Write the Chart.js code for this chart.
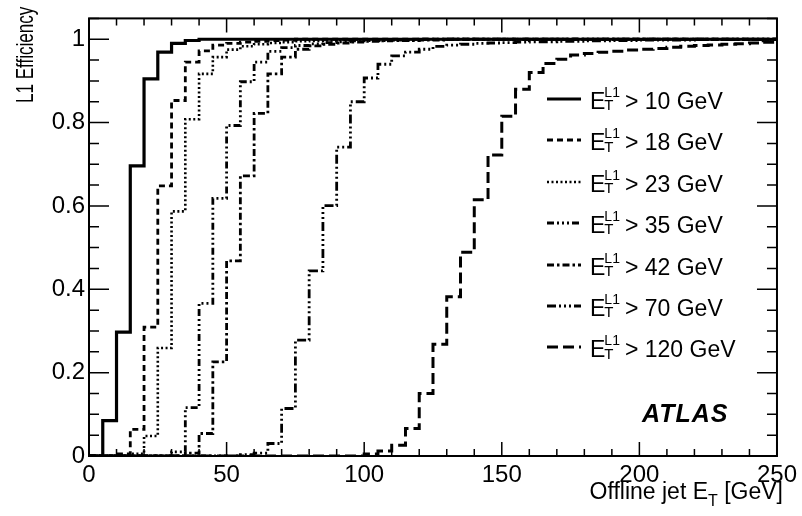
<!DOCTYPE html>
<html>
<head>
<meta charset="utf-8">
<script src="https://cdn.jsdelivr.net/npm/chart.js@4/dist/chart.umd.min.js"></script>
<style>
body { margin: 0; background: #fff; }
#wrap { position: relative; width: 802px; height: 516px; font-family: "Liberation Sans", Arial, sans-serif; color: #000; }
canvas { position: absolute; left: 0; top: 0; }
.ov { position: absolute; white-space: nowrap; line-height: 1; }
.row { font-size: 23px; display: flex; align-items: flex-start; }
.row svg { margin-top: 5px; margin-right: 9px; }
.ss { display: inline-flex; flex-direction: column; font-size: 14px; line-height: 0.95; vertical-align: top; margin-top: -4px; margin-right: 5px; margin-left: -1px; }
.sub { font-size: 15px; margin-top: -1px; }
#xtitle { font-size: 23px; right: 19px; top: 480px; }
#xtitle sub { font-size: 16px; vertical-align: -7px; }
#atlas { font-size: 25px; font-weight: bold; font-style: italic; letter-spacing: 1px; left: 642px; top: 401px; }
</style>
</head>
<body>
<div id="wrap">
  <canvas id="eff" width="802" height="516"></canvas>
  <div class="ov" id="xtitle">Offline jet E<sub>T</sub> [GeV]</div>
  <div class="ov" id="atlas">ATLAS</div>
</div>
<script>
// bin edges in GeV (5 GeV bins)
const binEdges = [0,5,10,15,20,25,30,35,40,45,50,55,60,65,70,75,80,85,90,95,
  100,105,110,115,120,125,130,135,140,145,150,155,160,165,170,175,180,185,190,195,
  200,205,210,215,220,225,230,235,240,245,250]

// efficiency per bin, one array per L1 threshold
const eff10 = [0,0.085,0.297,0.696,0.905,0.969,0.99,0.997,1,1,
  1,1,1,1,1,1,1,1,1,1, 1,1,1,1,1,1,1,1,1,1, 1,1,1,1,1,1,1,1,1,1, 1,1,1,1,1,1,1,1,1,1]
const eff18 = [0,0,0.005,0.064,0.309,0.648,0.853,0.945,0.972,0.986,
  0.99,0.993,0.995,0.997,0.998,1,1,1,1,1, 1,1,1,1,1,1,1,1,1,1, 1,1,1,1,1,1,1,1,1,1, 1,1,1,1,1,1,1,1,1,1]
const eff23 = [0,0,0,0.005,0.048,0.259,0.587,0.808,0.917,0.957,
  0.975,0.983,0.988,0.991,0.993,0.995,0.996,0.997,0.998,1, 1,1,1,1,1,1,1,1,1,1, 1,1,1,1,1,1,1,1,1,1, 1,1,1,1,1,1,1,1,1,1]
const eff35 = [0,0,0,0,0,0,0.01,0.116,0.366,0.618,
  0.793,0.898,0.945,0.971,0.98,0.985,0.989,0.992,0.994,0.996, 0.997,0.997,0.998,0.998,1,1,1,1,1,1, 1,1,1,1,1,1,1,1,1,1, 1,1,1,1,1,1,1,1,1,1]
const eff42 = [0,0,0,0,0,0,0,0.007,0.054,0.226,
  0.468,0.672,0.822,0.917,0.957,0.976,0.984,0.988,0.991,0.993, 0.995,0.996,0.997,0.997,0.998,0.998,1,1,1,1, 1,1,1,1,1,1,1,1,1,1, 1,1,1,1,1,1,1,1,1,1]
const eff70 = [0,0,0,0,0,0,0,0,0,0,
  0,0.003,0.007,0.03,0.114,0.278,0.444,0.601,0.741,0.85, 0.907,0.94,0.96,0.969,0.976,0.983,0.986,0.988,0.99,0.991,
  0.992,0.993,0.994,0.994,0.995,0.995,0.996,0.996,0.997,0.997, 0.998,0.998,0.998,0.998,0.999,0.999,0.999,0.999,0.999,0.999]
const eff120 = [0,0,0,0,0,0,0,0,0,0, 0,0,0,0,0,0,0,0,0,0,
  0.005,0.012,0.026,0.066,0.15,0.268,0.382,0.489,0.615,0.722, 0.815,0.88,0.92,0.942,0.952,0.962,0.966,0.969,0.971,0.974,
  0.976,0.978,0.981,0.983,0.985,0.986,0.988,0.989,0.991,0.993]

const thresholds = ['10', '18', '23', '35', '42', '70', '120']
const allEff = [eff10, eff18, eff23, eff35, eff42, eff70, eff120]
const dashes = [[], [6,4], [2,2.5], [7,3,2,3,2,3,2,3], [7,3,2.5,3], [9,3,2,3,2,3,2,3], [11,5]]
const widths = [3.2, 2.8, 2.6, 2.8, 2.8, 2.8, 3]

const xTicks = [0, 50, 100, 150, 200, 250]
const yTicks = [0, 0.2, 0.4, 0.6, 0.8, 1]
const yTickLabels = ['0', '0.2', '0.4', '0.6', '0.8', '1']
const yTitle = 'L1 Efficiency'

function toSteps(vals) {
    let pts = vals.map((v, i) => ({ x: binEdges[i], y: v }))
    pts.push({ x: binEdges[vals.length], y: vals[vals.length - 1] })
    return pts
}

// ROOT style frame with inward ticks on all four sides, plus the narrow y title
const frame = {
    id: 'frame',
    afterDatasetsDraw(chart) {
        const { ctx, chartArea: a } = chart
        const x = chart.scales.x, y = chart.scales.y
        ctx.save()
        ctx.strokeStyle = '#000'
        ctx.lineWidth = 2
        ctx.strokeRect(a.left, a.top, a.right - a.left, a.bottom - a.top)
        ctx.lineWidth = 1.5
        ctx.beginPath()
        for (let v = 0; v <= 250; v += 10) {
            const px = x.getPixelForValue(v)
            const len = v % 50 === 0 ? 14 : 7
            ctx.moveTo(px, a.bottom); ctx.lineTo(px, a.bottom - len)
            ctx.moveTo(px, a.top); ctx.lineTo(px, a.top + len)
        }
        for (let k = 0; k <= 21; k++) {
            const py = y.getPixelForValue(k * 0.05)
            const len = k % 4 === 0 ? 20 : 10
            ctx.moveTo(a.left, py); ctx.lineTo(a.left + len, py)
            ctx.moveTo(a.right, py); ctx.lineTo(a.right - len, py)
        }
        ctx.stroke()

        // y axis title, right aligned to the top like ROOT, squeezed along its length
        ctx.translate(33, 103)
        ctx.rotate(-Math.PI / 2)
        ctx.scale(0.71, 1)
        ctx.font = "24px 'Liberation Sans', Arial, sans-serif"
        ctx.fillStyle = '#000'
        ctx.textAlign = 'left'
        ctx.textBaseline = 'alphabetic'
        ctx.fillText(yTitle, 0, 0)
        ctx.restore()
    }
}

const tickFont = { family: "'Liberation Sans', Arial, sans-serif", size: 24 }

new Chart(document.getElementById('eff').getContext('2d'), {
    type: 'line',
    data: {
        datasets: allEff.map((vals, i) => ({
            label: 'E_T^L1 > ' + thresholds[i] + ' GeV',
            data: toSteps(vals),
            stepped: 'before',
            borderColor: '#000',
            borderWidth: widths[i],
            borderDash: dashes[i],
            pointRadius: 0,
            fill: false
        }))
    },
    options: {
        responsive: false,
        animation: false,
        layout: { padding: { top: 13, right: 22, left: 0, bottom: 0 } },
        plugins: { legend: { display: false }, tooltip: { enabled: false } },
        scales: {
            x: {
                type: 'linear', min: 0, max: 250,
                grid: { display: false, drawTicks: false },
                border: { display: false },
                afterBuildTicks: s => { s.ticks = xTicks.map(v => ({ value: v })) },
                afterFit: s => { s.height = 60 },
                ticks: { font: tickFont, color: '#000', padding: 5, maxRotation: 0, callback: v => String(v) }
            },
            y: {
                type: 'linear', min: 0, max: 1.05,
                grid: { display: false, drawTicks: false },
                border: { display: false },
                afterBuildTicks: s => { s.ticks = yTicks.map(v => ({ value: v })) },
                afterFit: s => { s.width = 89 },
                ticks: { font: tickFont, color: '#000', padding: 4, callback: (v, i) => yTickLabels[i] }
            }
        }
    },
    plugins: [frame]
})

// legend drawn as html so the E_T^L1 sub/superscripts stay real text
const wrap = document.getElementById('wrap')
thresholds.forEach((t, i) => {
    const row = document.createElement('div')
    row.className = 'ov row'
    row.style.left = '547px'
    row.style.top = (90 + i * 41.4) + 'px'
    const dash = dashes[i].length ? dashes[i].join(',') : 'none'
    row.innerHTML =
        '<svg width="34" height="8"><line x1="0" y1="4" x2="34" y2="4" stroke="#000" stroke-width="' +
        widths[i] + '" stroke-dasharray="' + dash + '"/></svg>' +
        '<span>E</span><span class="ss"><span>L1</span><span class="sub">T</span></span>' +
        '<span>&gt; ' + t + ' GeV</span>'
    wrap.appendChild(row)
})
</script>
</body>
</html>
